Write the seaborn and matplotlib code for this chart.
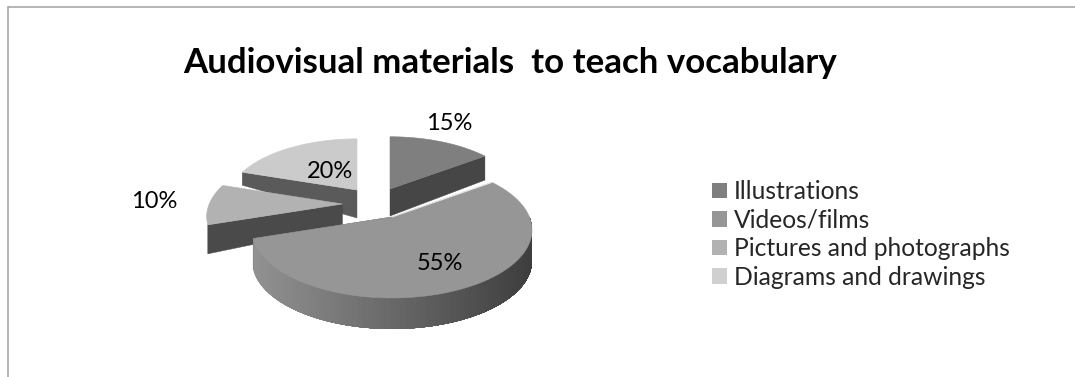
import numpy as np
import matplotlib
matplotlib.use("Agg")
import matplotlib.pyplot as plt
from matplotlib.patches import Polygon, Patch
import seaborn as sns

# --- data ---
title = "Audiovisual materials  to teach vocabulary"
categories = ["Illustrations", "Videos/films", "Pictures and photographs", "Diagrams and drawings"]
values = [15, 55, 10, 20]

# --- style ---
top_colors = ["#7f7f7f", "#969696", "#b2b2b2", "#cbcbcb"]
legend_colors = ["#7f7f7f", "#969696", "#b2b2b2", "#d0d0d0"]
side_colors = ["#464646", "#505050", "#4a4a4a", "#5a5a5a"]
apexes = [(390, 189), (392, 217), (342.5, 204), (357, 190)]   # exploded slice tips, px
scales = [0.95, 1.0, 0.97, 0.93]
apex_depth = [27, 31, 22, 28]
rim_depth = [24, 31, 29, 13]
label_pos = [(449, 123), (440, 263), (154, 201), (330, 172)]
A, B, P = 137.4, 65.5, 0.191                                 # projected pie


def rim(theta_deg, i):
    t = np.radians(theta_deg)
    u, v = np.sin(t), -np.cos(t)
    w = 1 - P * v
    return (apexes[i][0] + scales[i] * A * u / w,
            apexes[i][1] + scales[i] * B * v / w)


sns.set_theme(style="white")
plt.rcParams["font.family"] = ["Lato", "DejaVu Sans"]
fig = plt.figure(figsize=(10.75, 3.77), dpi=100, facecolor="white")
ax = fig.add_axes([0, 0, 1, 1])
ax.set_xlim(0, 1075)
ax.set_ylim(377, 0)
ax.axis("off")

# chart frame (top and left only are in the crop)
ax.plot([7.5, 7.5, 1075], [377, 6.5, 6.5], color="#a0a0a0", lw=1.1, solid_joinstyle="miter")

edges = np.cumsum([0] + values) * 3.6
starts, ends = edges[:-1], edges[1:]


def face(i):
    th = np.linspace(starts[i], ends[i], 120)
    x, y = rim(th, i)
    return np.column_stack([np.r_[apexes[i][0], x], np.r_[apexes[i][1], y]])


def side(i, theta):
    ax_, ay_ = apexes[i]
    x, y = rim(theta, i)
    pts = [(ax_, ay_), (x, y), (x, y + rim_depth[i]), (ax_, ay_ + apex_depth[i])]
    ax.add_patch(Polygon(pts, closed=True, fc=side_colors[i], ec=side_colors[i], lw=0.3))


def draw_slice(i, cut_theta):
    side(i, cut_theta)
    if i == 1:
        # curved wall of the large slice, shaded from left to right, each strip
        # overlapping the next so that no seams show
        th = np.linspace(ends[i], 90, 90)
        xs, _ = rim(th, i)
        d = rim_depth[i]
        for k in range(len(th) - 1):
            shade = np.interp(xs[k], [xs.min(), xs.max()], [0.57, 0.24])
            arc = np.linspace(th[k], 90, 40)
            x, y = rim(arc, i)
            pts = np.r_[np.column_stack([x, y]), np.column_stack([x, y + d])[::-1]]
            ax.add_patch(Polygon(pts, closed=True, fc=str(round(float(shade), 3)), ec="none"))
    ax.add_patch(Polygon(face(i), closed=True, fc=top_colors[i], ec=top_colors[i], lw=0.4))


# back to front
draw_slice(3, starts[3])
draw_slice(0, ends[0])
draw_slice(2, starts[2])
draw_slice(1, ends[1])

# thin highlight between slices
x0, y0 = rim(starts[1], 1)
ax.plot([apexes[1][0], x0], [apexes[1][1], y0], color="#e6e6e6", lw=0.8)

for v, (lx, ly) in zip(values, label_pos):
    ax.text(lx, ly, f"{v}%", ha="center", va="center", fontsize=17, color="black")

ax.text(183, 63, title, ha="left", va="center", fontsize=25.1, fontweight="bold", color="black")

handles = [Patch(fc=c, ec="none") for c in legend_colors]
ax.legend(handles, categories, loc="center left", bbox_to_anchor=(712 / 1075, 1 - 234.5 / 377),
          bbox_transform=fig.transFigure, frameon=False, fontsize=17.7,
          handlelength=0.61, handleheight=0.61, handletextpad=0.28,
          labelspacing=0.225, borderpad=0, borderaxespad=0)

fig.savefig("out.png", dpi=100)
